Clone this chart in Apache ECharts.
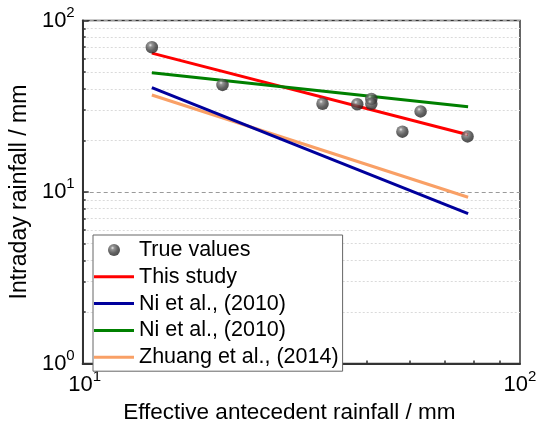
<!DOCTYPE html>
<html><head><meta charset="utf-8">
<script src="https://cdn.jsdelivr.net/npm/echarts@6/dist/echarts.min.js"></script>
<style>html,body{margin:0;padding:0;background:#fff}#c{width:542px;height:429px}</style>
</head><body><div id="c"></div>
<script>
// ---- data ----
const xTrue = [13.0, 18.8, 31.7, 38.0, 40.9, 40.9, 48.1, 52.9, 67.6];
const yTrue = [69.8, 42.1, 32.7, 32.5, 34.9, 32.7, 22.5, 29.5, 21.1];
const xLine = [13.0, 67.8];
const yThisStudy = [64.5, 21.6];
const yNiBlue = [40.6, 7.48];
const yNiGreen = [49.6, 31.4];
const yZhuang = [36.8, 9.33];
const seriesNames = ['True values', 'This study', 'Ni et al., (2010)', 'Ni et al., (2010) ', 'Zhuang et al., (2014)'];
const xMajor = [10];
const xMinor = [20, 30, 40, 50, 60, 70, 80];
const yMinor = [2, 3, 4, 5, 6, 7, 8, 9, 20, 30, 40, 50, 60, 70, 80, 90];
const xRange = [9.06, 88.9];
const yRange = [1, 100];
const xLabelValues = [10, 88.9];
const xLabelTexts = ['1', '2'];

const zip = (a, b) => a.map((v, i) => [v, b[i]]);
const FONT = 'Liberation Sans';
const rich = {
  b: {fontSize: 22, fontFamily: FONT, color: '#000', lineHeight: 31},
  s: {fontSize: 15, fontFamily: FONT, color: '#000', lineHeight: 15, verticalAlign: 'top'},
  p: {fontSize: 10, width: 34}
};
const LINE_ICON = 'path://M0 0H40V3H0Z';

const chart = echarts.init(document.getElementById('c'), null, {renderer: 'canvas'});
chart.setOption({
  animation: false,
  backgroundColor: '#fff',
  grid: {left: 80, right: 22, top: 20.5, bottom: 53, show: true, borderColor: '#333', borderWidth: 1.5, backgroundColor: 'transparent'},
  xAxis: [{
    type: 'log', logBase: 10, min: xRange[0], max: xRange[1],
    name: 'Effective antecedent rainfall / mm', nameLocation: 'middle', nameGap: 19,
    nameTextStyle: {fontSize: 22.5, fontFamily: FONT, color: '#000', padding: [0, 24, 0, 0]},
    axisLine: {show: true, lineStyle: {color: '#333', width: 2}},
    axisTick: {show: true, inside: true, length: 5, customValues: xMajor, lineStyle: {color: '#333', width: 1.5}},
    axisLabel: {show: true, margin: 6, customValues: xLabelValues,
      formatter: (v) => { const i = xLabelValues.indexOf(v); return i === 0 ? '{b|10}{s|' + xLabelTexts[0] + '}{p|\u00a0}' : '{b|10}{s|' + xLabelTexts[1] + '}'; },
      rich: rich},
    splitLine: {show: false}
  }, {
    type: 'log', logBase: 10, min: xRange[0], max: xRange[1], position: 'bottom',
    axisLine: {show: false},
    axisTick: {show: true, inside: true, length: 3, customValues: xMinor, lineStyle: {color: '#333', width: 1.5}},
    axisLabel: {show: false}, splitLine: {show: false}
  }],
  yAxis: [{
    type: 'log', logBase: 10, min: yRange[0], max: yRange[1],
    name: 'Intraday rainfall / mm', nameLocation: 'middle', nameGap: 40,
    nameTextStyle: {fontSize: 23, fontFamily: FONT, color: '#000'},
    axisLine: {show: true, lineStyle: {color: '#333', width: 2}},
    axisTick: {show: true, inside: true, length: 6, lineStyle: {color: '#333', width: 1.5}},
    axisLabel: {show: true, margin: 8,
      formatter: (v) => '{b|10}{s|' + Math.round(Math.log10(v)) + '}', rich: rich},
    splitLine: {show: true, lineStyle: {color: '#9a9a9a', width: 1, type: [4, 3]}}
  }, {
    type: 'log', logBase: 10, min: yRange[0], max: yRange[1], position: 'left',
    axisLine: {show: false},
    axisTick: {show: true, inside: true, length: 3, customValues: yMinor, lineStyle: {color: '#333', width: 1.5}},
    axisLabel: {show: false},
    splitLine: {show: true, lineStyle: {color: '#dadada', width: 1, type: [2, 2]}}
  }],
  legend: {
    orient: 'vertical', left: 93, top: 235, itemWidth: 40, itemHeight: 12, itemGap: 4.8,
    padding: [4, 4, 3, 1], borderColor: '#666', borderWidth: 1, backgroundColor: '#fff',
    textStyle: {fontSize: 21.5, fontFamily: FONT, color: '#000'},
    data: [
      {name: seriesNames[0], icon: 'circle'},
      {name: seriesNames[1], icon: LINE_ICON},
      {name: seriesNames[2], icon: LINE_ICON},
      {name: seriesNames[3], icon: LINE_ICON},
      {name: seriesNames[4], icon: LINE_ICON}
    ]
  },
  series: [
    {name: seriesNames[0], type: 'scatter', data: zip(xTrue, yTrue), symbol: 'circle', symbolSize: 12.5, z: 5,
      itemStyle: {color: {type: 'radial', x: 0.38, y: 0.33, r: 0.72, colorStops: [
        {offset: 0, color: '#e6e6e6'}, {offset: 0.2, color: '#7a7a7a'}, {offset: 0.6, color: '#3c3c3c'}, {offset: 1, color: '#1e1e1e'}]}}},
    {name: seriesNames[1], type: 'line', data: zip(xLine, yThisStudy), symbol: 'none', z: 3,
      lineStyle: {color: '#ff0000', width: 3}, itemStyle: {color: '#ff0000'}},
    {name: seriesNames[2], type: 'line', data: zip(xLine, yNiBlue), symbol: 'none', z: 3,
      lineStyle: {color: '#00009c', width: 3}, itemStyle: {color: '#00009c'}},
    {name: seriesNames[3], type: 'line', data: zip(xLine, yNiGreen), symbol: 'none', z: 3,
      lineStyle: {color: '#008000', width: 3}, itemStyle: {color: '#008000'}},
    {name: seriesNames[4], type: 'line', data: zip(xLine, yZhuang), symbol: 'none', z: 2,
      lineStyle: {color: '#f9a066', width: 3}, itemStyle: {color: '#f9a066'}}
  ]
});
</script></body></html>
